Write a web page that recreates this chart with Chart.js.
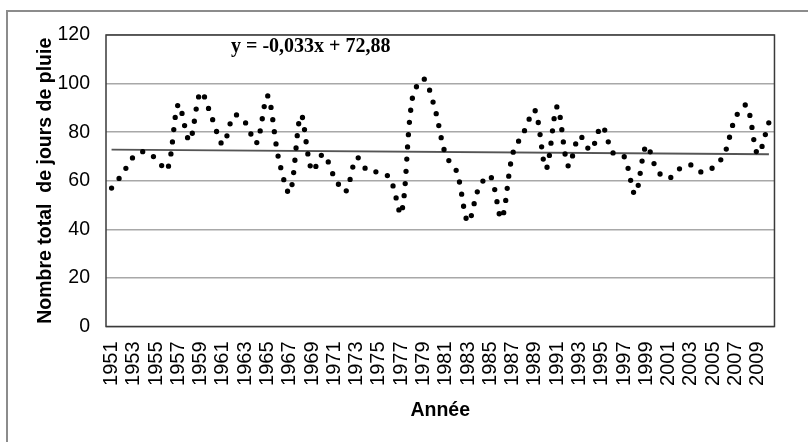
<!DOCTYPE html>
<html><head><meta charset="utf-8">
<script src="https://cdn.jsdelivr.net/npm/chart.js@4/dist/chart.umd.min.js"></script>
<style>
html,body{margin:0;padding:0;background:#fff;}
#wrap{position:relative;width:808px;height:442px;overflow:hidden;background:#fff;}
#frame{position:absolute;left:6px;top:10px;width:900px;height:900px;border:2px solid #8c8c8c;box-sizing:border-box;}
#box{position:absolute;left:0;top:0;width:808px;height:442px;}
</style></head><body>
<div id="wrap"><div id="frame"></div><div id="box"><canvas id="c"></canvas></div></div>
<script>
const years = [1951,1952,1953,1954,1955,1956,1957,1958,1959,1960,
  1961,1962,1963,1964,1965,1966,1967,1968,1969,1970,
  1971,1972,1973,1974,1975,1976,1977,1978,1979,1980,
  1981,1982,1983,1984,1985,1986,1987,1988,1989,1990,
  1991,1992,1993,1994,1995,1996,1997,1998,1999,2000,
  2001,2002,2003,2004,2005,2006,2007,2008,2009,2010];
const rainDays = [57,63,70,72,69,64.5,91.5,76.5,96.5,86,
  75,87,84,75.5,95,69,55,87,64,71,
  61.5,55.5,69.5,64,63.5,61,46.5,94,102,90,
  70.5,63.5,43,57.5,62,44.5,71,80,89,65,
  90.5,66,78.5,72.5,82.6,71.5,70,54.5,74.5,64,
  61,65,66.5,63.5,65.5,71,86,91,71,84];
const tickYears = [1951,1953,1955,1957,1959,1961,1963,1965,1967,1969,
  1971,1973,1975,1977,1979,1981,1983,1985,1987,1989,
  1991,1993,1995,1997,1999,2001,2003,2005,2007,2009];
const trendEnds = [72.85, 70.90];
const yTicks = [0,20,40,60,80,100,120];
const equationText = 'y = -0,033x + 72,88';

const trendData = years.map((y,i)=> i===0 ? trendEnds[0] : (i===years.length-1 ? trendEnds[1] : null));

const plotExtras = {
  id:'plotExtras',
  beforeDatasetsDraw(chart){
    const a = chart.chartArea, ctx = chart.ctx;
    ctx.save();
    ctx.strokeStyle = '#3a3a3a';
    ctx.lineWidth = 1.5;
    ctx.strokeRect(a.left, a.top, a.right - a.left, a.bottom - a.top);
    ctx.restore();
  },
  afterDraw(chart){
    const a = chart.chartArea, ctx = chart.ctx;
    ctx.save();
    ctx.font = 'bold 20px "Liberation Serif", "Times New Roman", serif';
    ctx.fillStyle = '#000';
    ctx.textAlign = 'left';
    ctx.textBaseline = 'middle';
    ctx.fillText(equationText, a.left + 125, a.top + 12);
    ctx.restore();
  }
};

const FONT = '"Liberation Sans", Arial, sans-serif';

new Chart(document.getElementById('c'), {
  type:'line',
  data:{
    labels: years.map(String),
    datasets:[
      {
        data: rainDays,
        borderColor:'#000',
        borderWidth:5.3,
        borderDash:[0, 12.2],
        borderCapStyle:'round',
        pointRadius:0,
        tension:0.33,
        fill:false,
        order:1
      },
      {
        data: trendData,
        spanGaps:true,
        borderColor:'#555',
        borderWidth:1.8,
        pointRadius:0,
        tension:0,
        fill:false,
        order:2
      }
    ]
  },
  options:{
    responsive:true,
    maintainAspectRatio:false,
    animation:false,
    layout:{padding:{left:0,right:11,top:35,bottom:0}},
    plugins:{legend:{display:false}, tooltip:{enabled:false}},
    scales:{
      x:{
        offset:true,
        grid:{display:false, drawTicks:false},
        border:{display:false},
        ticks:{
          autoSkip:false, minRotation:90, maxRotation:90, padding:15,
          color:'#000', font:{family:FONT, size:20},
          callback:(v,i)=> tickYears.includes(years[i]) ? String(years[i]) : ''
        },
        title:{display:true, text:'Année', color:'#000',
          font:{family:FONT, size:19.5, weight:'bold'}, padding:{top:0,bottom:20}},
        afterFit(s){ s.height = 115.5; }
      },
      y:{
        min:0, max:120,
        afterBuildTicks(s){ s.ticks = yTicks.map(v=>({value:v})); },
        ticks:{padding:16, color:'#000', font:{family:FONT, size:19.5}},
        grid:{color:'#a8a8a8', lineWidth:1.5, drawTicks:false},
        border:{display:false},
        title:{display:true, text:'Nombre total  de jours de pluie', color:'#000',
          font:{family:FONT, size:19.5, weight:'bold'}, padding:{top:34,bottom:0}},
        afterFit(s){ s.width = 106; }
      }
    }
  },
  plugins:[plotExtras]
});
</script>
</body></html>
